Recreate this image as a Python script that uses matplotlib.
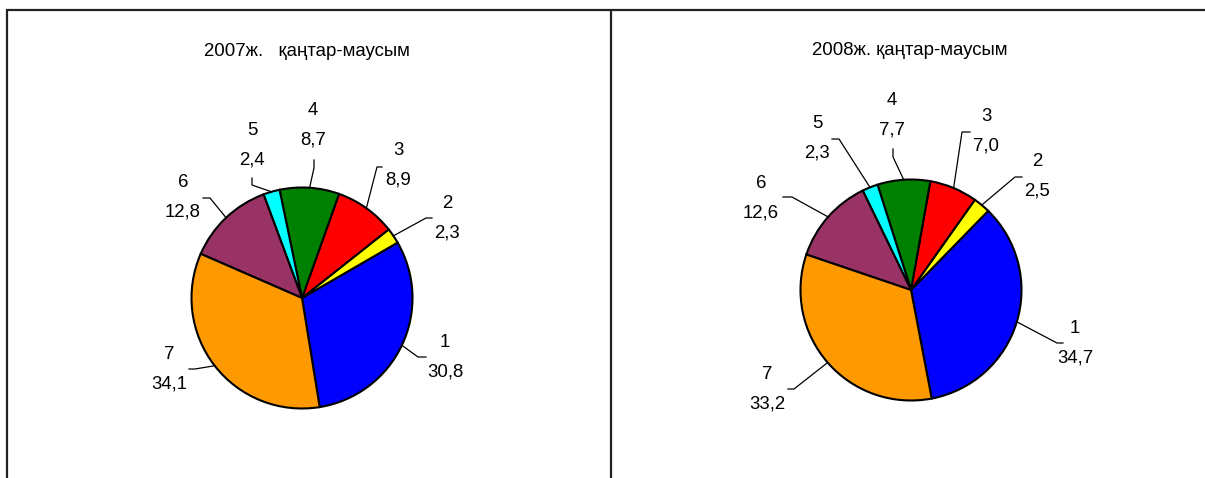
import numpy as np
import matplotlib
matplotlib.use('Agg')
from matplotlib import pyplot as plt

plt.rcParams['font.family'] = ['Liberation Sans', 'DejaVu Sans']

W, H = 1205, 478

categories = ['1', '2', '3', '4', '5', '6', '7']
values_2007 = [30.8, 2.3, 8.9, 8.7, 2.4, 12.8, 34.1]
values_2008 = [34.7, 2.5, 7.0, 7.7, 2.3, 12.6, 33.2]
value_labels_2007 = ['30,8', '2,3', '8,9', '8,7', '2,4', '12,8', '34,1']
value_labels_2008 = ['34,7', '2,5', '7,0', '7,7', '2,3', '12,6', '33,2']
titles = ['2007ж.   қаңтар-маусым', '2008ж. қаңтар-маусым']
colours = ['#0000FF', '#FFFF00', '#FF0000', '#008000', '#00FFFF', '#993366', '#FF9900']

# layout in pixel coords (y measured from the top)
pies = [
    dict(values=values_2007, texts=value_labels_2007, title=titles[0],
         center=(302, 298), r=110.5, start=-80.8, title_xy=(307, 51),
         label_xy=[(445, 357), (447, 218), (398, 165), (313, 125),
                   (252, 145), (183, 197), (169, 369)],
         elbow=[(418, 357), (426, 218), (377, 167), (314, 168),
                (252, 185), (210, 198), (195, 369)],
         end=[(426, 357), (432, 218), (382, 167), (314, 160),
              (252, 178), (203, 198), (189, 369)]),
    dict(values=values_2008, texts=value_labels_2008, title=titles[1],
         center=(911, 290), r=110.5, start=-79.2, title_xy=(910, 50),
         label_xy=[(1075, 343), (1037, 176), (986, 131), (892, 115),
                   (817, 138), (761, 198), (767, 389)],
         elbow=[(1057, 343), (1015, 177), (962, 132), (893, 157),
                (839, 139), (792, 197), (794, 389)],
         end=[(1063, 343), (1022, 177), (970, 132), (893, 149),
              (832, 139), (783, 197), (788, 389)]),
]

fig = plt.figure(figsize=(W / 100, H / 100), dpi=100)
ax = fig.add_axes([0, 0, 1, 1])

def fy(y):
    return H - y

# frame lines
frame = dict(color='#222222', linewidth=1.6, solid_capstyle='butt')
ax.plot([6, W], [fy(9.5), fy(9.5)], **frame)
ax.plot([7, 7], [fy(9.5), 0], **frame)
ax.plot([610.5, 610.5], [fy(9.5), 0], **frame)

for p in pies:
    cx, cy = p['center']
    wedges, _ = ax.pie(p['values'], colors=colours, startangle=p['start'],
                       counterclock=True, center=(cx, fy(cy)), radius=p['r'],
                       wedgeprops=dict(edgecolor='black', linewidth=1.5),
                       frame=True)
    ax.text(p['title_xy'][0], fy(p['title_xy'][1]), p['title'],
            ha='center', va='center', fontsize=13.4)
    for i, w in enumerate(wedges):
        mid = np.deg2rad((w.theta1 + w.theta2) / 2)
        sx = cx + p['r'] * np.cos(mid)
        sy = fy(cy) + p['r'] * np.sin(mid)
        ex, ey = p['elbow'][i]
        tx, ty = p['end'][i]
        ax.plot([sx, ex, tx], [sy, fy(ey), fy(ty)], color='black',
                linewidth=0.9)
        lx, ly = p['label_xy'][i]
        ax.text(lx, fy(ly), categories[i] + '\n' + p['texts'][i],
                ha='center', va='center', fontsize=13.4, linespacing=1.95)

ax.set_xlim(0, W)
ax.set_ylim(0, H)
ax.set_aspect('equal')
ax.axis('off')

fig.savefig('out.png', dpi=100)
